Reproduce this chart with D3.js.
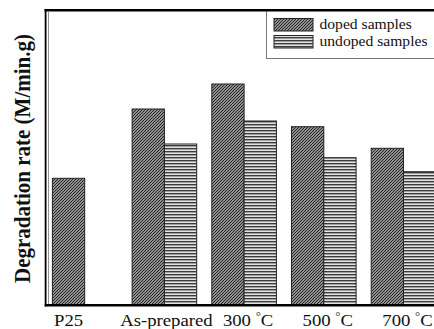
<!DOCTYPE html>
<html>
<head>
<meta charset="utf-8">
<script src="https://cdn.jsdelivr.net/npm/d3@7/dist/d3.min.js"></script>
<style>
html,body{margin:0;padding:0;background:#fff;}
svg{display:block;}
</style>
</head>
<body>
<script>
// ---- data ----
const categories = ["P25", "As-prepared", "300 °C", "500 °C", "700 °C"];
const series = ["doped samples", "undoped samples"];
const dopedValues = [126.7, 196, 221, 178.3, 156.7];
const undopedValues = [null, 161, 184, 147.3, 133.3];
const yLabel = "Degradation rate (M/min.g)";

const W = 434, H = 329;
const margin = {left: 46, top: 10, bottom: 305};

const svg = d3.select("body").append("svg").attr("width", W).attr("height", H);
const defs = svg.append("defs");

// diagonal hatch pattern (doped)
const pd = defs.append("pattern").attr("id", "diag").attr("patternUnits", "userSpaceOnUse")
  .attr("width", 3).attr("height", 3);
pd.append("rect").attr("width", 3).attr("height", 3).attr("fill", "#bdbdbd");
pd.append("path").attr("d", "M-0.75,0.75 L0.75,-0.75 M0,3 L3,0 M2.25,3.75 L3.75,2.25")
  .attr("stroke", "#1e1e1e").attr("stroke-width", 1.1);

// horizontal line pattern (undoped)
const ph = defs.append("pattern").attr("id", "horiz").attr("patternUnits", "userSpaceOnUse")
  .attr("width", 4).attr("height", 3);
ph.append("rect").attr("width", 4).attr("height", 3).attr("fill", "#e2e2e2");
ph.append("rect").attr("y", 1).attr("width", 4).attr("height", 1.4).attr("fill", "#3c3c3c");

const fills = {"doped samples": "url(#diag)", "undoped samples": "url(#horiz)"};

// ---- scales ----
const x0 = d3.scaleBand().domain(categories).range([44.43, 443.77])
  .paddingInner(0.1895).paddingOuter(0.1);
const x1 = d3.scaleBand().domain(series).range([0, x0.bandwidth()]).padding(0);
const y = d3.scaleLinear().domain([0, 295]).range([margin.bottom, margin.top]);

const rows = categories.map((c, i) => ({
  cat: c,
  vals: [{s: series[0], v: dopedValues[i]}, {s: series[1], v: undopedValues[i]}]
}));

// ---- bars ----
const g = svg.append("g");
rows.forEach(r => {
  r.vals.filter(d => d.v != null).forEach(d => {
    g.append("rect")
      .attr("x", x0(r.cat) + x1(d.s))
      .attr("y", y(d.v))
      .attr("width", x1.bandwidth())
      .attr("height", y(0) - y(d.v))
      .attr("fill", fills[d.s])
      .attr("stroke", "#222")
      .attr("stroke-width", 1);
  });
});

// ---- frame / axes ----
svg.append("line").attr("x1", 44.5).attr("x2", W).attr("y1", 10.3).attr("y2", 10.3)
  .attr("stroke", "#000").attr("stroke-width", 2.6);
svg.append("line").attr("x1", 45.6).attr("x2", 45.6).attr("y1", 9).attr("y2", 306.5)
  .attr("stroke", "#000").attr("stroke-width", 1.8);
svg.append("line").attr("x1", 48.5).attr("x2", 48.5).attr("y1", 11.5).attr("y2", 304)
  .attr("stroke", "#888").attr("stroke-width", 0.9);
svg.append("line").attr("x1", 44.7).attr("x2", W).attr("y1", 305.3).attr("y2", 305.3)
  .attr("stroke", "#000").attr("stroke-width", 2.4);

// ---- x labels ----
const xl = svg.append("g").attr("font-family", "'Liberation Serif','Times New Roman',serif")
  .attr("font-size", 16).attr("fill", "#111");
categories.forEach((c, i) => {
  let cx;
  if (undopedValues[i] == null) cx = x0(c) + x1(series[0]) + x1.bandwidth() / 2;
  else cx = x0(c) + x0.bandwidth() / 2 + (c.includes("°") ? 4 : 2);
  const t = xl.append("text").attr("text-anchor", "middle")
    .attr("transform", `translate(${cx},325.5) scale(1.17,1)`);
  if (c.includes("°")) {
    const parts = c.split("°");
    t.append("tspan").text(parts[0]);
    t.append("tspan").attr("dy", -6).attr("font-size", 11).text("°");
    t.append("tspan").attr("dy", 6).text(parts[1]);
  } else {
    t.text(c);
  }
});

// ---- y label ----
svg.append("text")
  .attr("transform", "translate(29.5,158.5) scale(1.1,1) rotate(-90)")
  .attr("text-anchor", "middle")
  .attr("font-family", "'Liberation Serif','Times New Roman',serif")
  .attr("font-weight", "bold").attr("font-size", 21).attr("fill", "#111")
  .text(yLabel);

// ---- legend ----
const lg = svg.append("g");
lg.append("rect").attr("x", 266.5).attr("y", 10).attr("width", 200).attr("height", 48.5)
  .attr("fill", "#fff").attr("stroke", "#777").attr("stroke-width", 1);
svg.append("line").attr("x1", 266).attr("x2", W).attr("y1", 10.3).attr("y2", 10.3)
  .attr("stroke", "#000").attr("stroke-width", 2.6);
series.forEach((s, i) => {
  const yy = 18.5 + i * 17;
  lg.append("rect").attr("x", 274).attr("y", yy).attr("width", 39).attr("height", 12.5)
    .attr("fill", fills[s]).attr("stroke", "#222").attr("stroke-width", 1);
  lg.append("text")
    .attr("transform", `translate(319.5,${yy + 10.5}) scale(1.14,1)`)
    .attr("font-family", "'Liberation Serif','Times New Roman',serif")
    .attr("font-size", 13.7).attr("fill", "#111")
    .text(s);
});
</script>
</body>
</html>
